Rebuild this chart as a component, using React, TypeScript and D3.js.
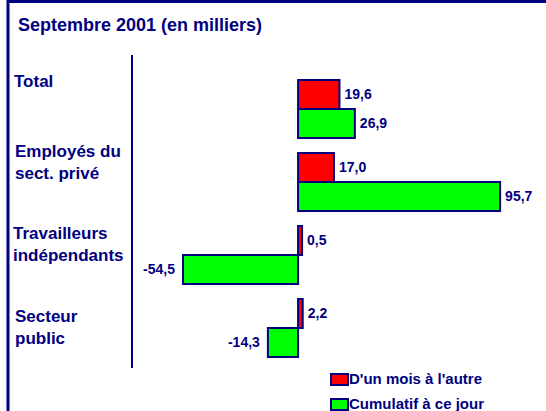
import React from 'react'
import * as d3 from 'd3'

const categories = ['Total', 'Employés du|sect. privé', 'Travailleurs|indépendants', 'Secteur|public']
const seriesNames = ["D'un mois à l'autre", 'Cumulatif à ce jour']
const monthly = [19.6, 17.0, 0.5, 2.2]
const cumulative = [26.9, 95.7, -54.5, -14.3]
const seriesColors = ['#ff0000', '#00ff00']
const title = 'Septembre 2001 (en milliers)'

const W = 546, H = 411
const navy = '#000080'
const font = '"Liberation Sans", Arial, sans-serif'

// décalage vertical des libellés de catégorie (premier baseline / haut du groupe)
const labelOffset = [7, 4, 13, 23]
const labelX = [14, 15, 13, 15]

const fmt = (v: number) => v.toFixed(1).replace('.', ',')

export default function App() {
    const x = d3.scaleLinear().domain([-65.4, 114.6]).range([160, 540])
    const y = d3.scaleBand().domain(categories).range([80, 357]).paddingInner(0.2055).paddingOuter(0)
    const ySub = d3.scaleBand().domain(['0', '1']).range([0, y.bandwidth()])
    const values = [monthly, cumulative]

    return (
        <svg width={W} height={H} style={{position: 'absolute', left: 0, top: 0}} fontFamily={font}>
            <rect x={0} y={0} width={W} height={H} fill="#fff"/>
            {/* cadre */}
            <line x1={8} x2={W} y1={1.5} y2={1.5} stroke={navy} strokeWidth={3}/>
            <line x1={8} x2={8} y1={0} y2={H} stroke={navy} strokeWidth={3}/>
            <text x={18} y={31} fill={navy} fontWeight="bold" fontSize={18}>{title}</text>
            <line x1={132} x2={132} y1={55} y2={368} stroke={navy} strokeWidth={2}/>

            {categories.map((c, i) => {
                const lines = c.split('|')
                const top = y(c)!
                return (
                    <g key={c}>
                        {lines.map((l, j) => (
                            <text key={l} x={labelX[i]} y={top + labelOffset[i] + j * 22}
                                  fill={navy} fontWeight="bold" fontSize={17}>{l}</text>
                        ))}
                        {values.map((vals, s) => {
                            const v = vals[i]
                            const by = top + ySub(String(s))!
                            const bh = ySub.bandwidth()
                            const x0 = x(Math.min(0, v))
                            const x1 = Math.max(x(Math.max(0, v)), x0 + 4)
                            return (
                                <g key={s}>
                                    <rect x={x0} y={by} width={x1 - x0} height={bh}
                                          fill={seriesColors[s]} stroke={navy} strokeWidth={2}/>
                                    <text x={v >= 0 ? x1 + 5 : x0 - 8} y={by + bh / 2} dy="0.35em"
                                          textAnchor={v >= 0 ? 'start' : 'end'}
                                          fill={navy} fontWeight="bold" fontSize={14}>{fmt(v)}</text>
                                </g>
                            )
                        })}
                    </g>
                )
            })}

            {seriesNames.map((n, s) => (
                <g key={n} transform={`translate(331,${374 + s * 25})`}>
                    <rect x={0} y={0} width={17} height={11} fill={seriesColors[s]} stroke={navy} strokeWidth={2}/>
                    <text x={18} y={10} fill={navy} fontWeight="bold" fontSize={15}>{n}</text>
                </g>
            ))}
        </svg>
    )
}
